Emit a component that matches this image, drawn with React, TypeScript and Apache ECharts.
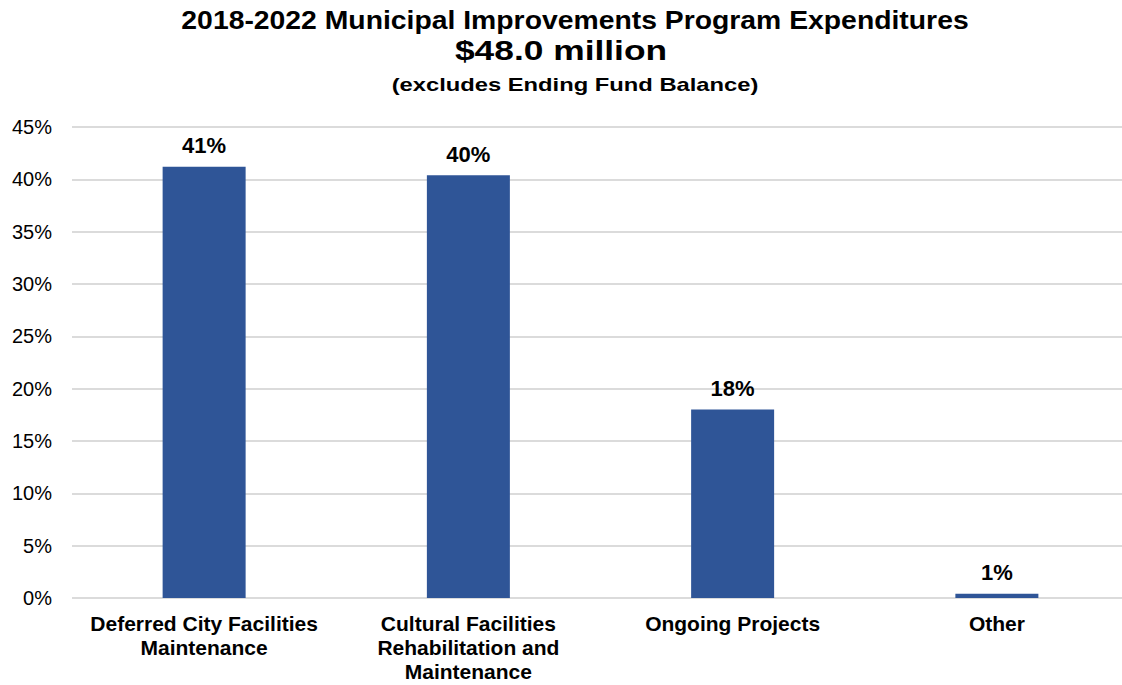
import React, { useEffect, useRef } from "react";
import * as echarts from "echarts";

const titleLines = [
  "2018-2022 Municipal Improvements Program Expenditures",
  "$48.0 million",
  "(excludes Ending Fund Balance)",
];
const categories = [
  "Deferred City Facilities\nMaintenance",
  "Cultural Facilities\nRehabilitation and\nMaintenance",
  "Ongoing Projects",
  "Other",
];
const shares = [41.2, 40.4, 18.0, 0.4];
const shareLabels = ["41%", "40%", "18%", "1%"];
const yTicks = { min: 0, max: 45, interval: 5 };

export default function App() {
  const ref = useRef<HTMLDivElement>(null);
  useEffect(() => {
    if (!ref.current) return;
    const chart = echarts.init(ref.current, undefined, { renderer: "svg" });
    const font = "'Liberation Sans', Arial, sans-serif";
    const titleText = (text: string, x: number, y: number, size: number, sx: number) => ({
      type: "text",
      x,
      y,
      scaleX: sx,
      style: {
        text,
        fontSize: size,
        fontWeight: "bold",
        fontFamily: font,
        fill: "#000",
        textAlign: "center",
        textVerticalAlign: "middle",
      },
    });
    chart.setOption({
      animation: false,
      textStyle: { fontFamily: font },
      graphic: [
        titleText(titleLines[0], 575, 20, 26, 1.09),
        titleText(titleLines[1], 561, 51, 27, 1.31),
        titleText(titleLines[2], 575, 85, 19, 1.25),
      ],
      grid: { left: 72, right: 1, top: 127, bottom: 87, containLabel: false },
      xAxis: {
        type: "category",
        data: categories,
        axisLine: { show: false },
        axisTick: { show: false },
        axisLabel: {
          interval: 0,
          margin: 13,
          fontSize: 21,
          fontWeight: "bold",
          color: "#000",
          lineHeight: 24,
          fontFamily: font,
        },
      },
      yAxis: {
        type: "value",
        min: yTicks.min,
        max: yTicks.max,
        interval: yTicks.interval,
        axisLine: { show: false },
        axisTick: { show: false },
        axisLabel: {
          formatter: "{value}%",
          fontSize: 20,
          color: "#000",
          margin: 20,
          fontFamily: font,
        },
        splitLine: { lineStyle: { color: "#cfcfcf", width: 1.5 } },
      },
      series: [
        {
          type: "bar",
          data: shares,
          barWidth: 83,
          itemStyle: { color: "#2F5597" },
          label: {
            show: true,
            position: "top",
            distance: 10,
            fontSize: 22,
            fontWeight: "bold",
            color: "#000",
            fontFamily: font,
            formatter: (p: any) => shareLabels[p.dataIndex],
          },
        },
      ],
    });
    return () => chart.dispose();
  }, []);
  return (
    <div
      ref={ref}
      style={{ position: "fixed", left: 0, top: 0, width: 1130, height: 685, background: "#fff" }}
    />
  );
}
